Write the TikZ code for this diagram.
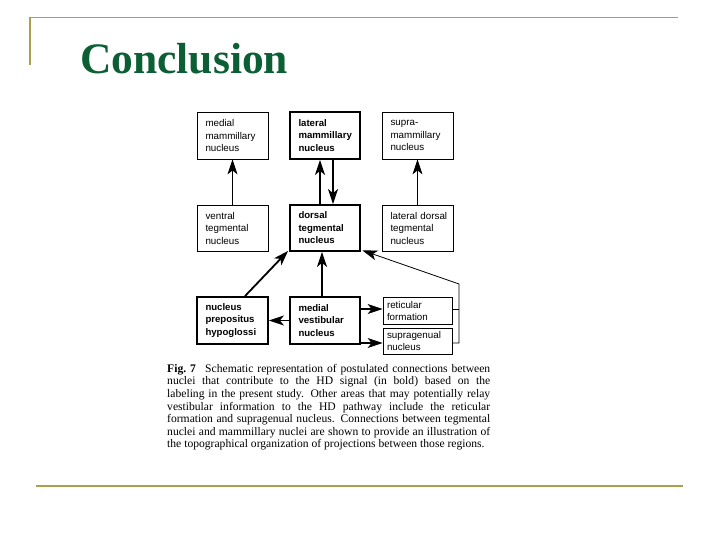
\documentclass[tikz,border=0pt]{standalone}
\usepackage{fontspec}
\setmainfont{Liberation Serif}
\newfontfamily\boxfont{Liberation Sans}
\usetikzlibrary{arrows.meta,calc}
\definecolor{gold}{RGB}{170,160,78}
\definecolor{titlegreen}{RGB}{12,94,52}
\begin{document}
\begin{tikzpicture}[x=1pt,y=-1pt,
  nbox/.style={draw,line width=0.8pt,minimum width=71pt,minimum height=47pt,text width=54pt,inner xsep=8.5pt,inner ysep=0pt,align=left,font=\boxfont\fontsize{9.8}{12.5}\selectfont},
  bbox/.style={nbox,line width=1.8pt,font=\boxfont\bfseries\fontsize{9.6}{12.5}\selectfont},
  sbox/.style={draw,line width=0.8pt,minimum width=69pt,text width=61pt,inner xsep=4pt,inner ysep=1pt,align=left,font=\boxfont\fontsize{9.8}{12}\selectfont},
  thinar/.style={line width=0.8pt,-{Stealth[length=15pt,width=10pt,inset=4pt]}},
  thickar/.style={line width=1.8pt,-{Stealth[length=15pt,width=10pt,inset=4pt]}}]
\useasboundingbox (0,0) rectangle (720,540);
% slide frame
\draw[gold,line width=1.6pt] (30,65.5) -- (30,17.5) -- (678,17.5);
\draw[gold,line width=2.5pt] (36,486) -- (683,486);
\node[anchor=base west,inner sep=0pt,text=titlegreen,font=\bfseries\fontsize{43.5}{48}\selectfont] (title) at (80,73.5) {Conclusion};
% boxes
\node[nbox] (mm) at (232.5,135.5) {medial\\mammillary\\nucleus};
\node[bbox,minimum width=70pt,text width=53pt] (lm) at (325,135.5) {lateral\\mammillary\\nucleus};
\node[nbox] (sm) at (417.5,135.5) {supra-\\mammillary\\nucleus};
\node[nbox,minimum height=46pt] (vt) at (232.5,228) {ventral\\tegmental\\nucleus};
\node[bbox,minimum width=70pt,text width=53pt,minimum height=46pt] (dt) at (325,228) {dorsal\\tegmental\\nucleus};
\node[nbox,minimum height=46pt] (ldt) at (417.5,228) {\mbox{lateral dorsal}\\tegmental\\nucleus};
\node[bbox] (np) at (232.5,320.5) {nucleus\\prepositus\\hypoglossi};
\node[bbox,minimum width=70pt,text width=53pt] (mv) at (325,320.5) {medial\\vestibular\\nucleus};
\node[sbox,minimum height=27pt] (rf) at (417.5,310.5) {reticular\\formation};
\node[sbox,minimum height=26pt] (sg) at (417.5,341) {supragenual\\nucleus};
% connectors
\draw[thinar] (vt.north) -- (mm.south);
\draw[thinar] (ldt.north) -- (sm.south);
\draw[thickar] ([xshift=-5pt]dt.north) -- ([xshift=-5pt]lm.south);
\draw[thickar] ([xshift=8pt]lm.south) -- ([xshift=8pt]dt.north);
\draw[thickar] ([xshift=12.5pt]np.north) -- ([xshift=-1pt,yshift=1pt]dt.south west);
\draw[thickar] ([xshift=-3pt]mv.north) -- ([xshift=-3pt]dt.south);
\draw[thickar] (mv.west) -- (np.east);
\draw[thinar,line width=1.1pt] ([yshift=1.5pt]mv.east |- rf.west) -- ([yshift=1.5pt]rf.west);
\draw[thinar,line width=1.1pt] ([yshift=-2pt]mv.east |- sg.west) -- ([yshift=-2pt]sg.west);
\coordinate (j) at (459,284);
\draw[line width=0.8pt] ([yshift=1.5pt]rf.east) -- ([yshift=1.5pt]rf.east -| j);
\draw[thinar] ([yshift=-2pt]sg.east) -- ([yshift=-2pt]sg.east -| j) -- (j) -- ([xshift=1.5pt,yshift=1.5pt]dt.south east);
% caption
\node[anchor=north west,inner sep=0pt,text width=323pt,align=justify,font=\fontsize{11.6}{12.6}\selectfont] (cap) at (167,364) {\textbf{Fig.~7}\hspace{0.8em}Schematic representation of postulated connections between\linebreak nuclei that contribute to the HD signal (in bold) based on the\linebreak labeling in the present study. Other areas that may potentially relay\linebreak vestibular information to the HD pathway include the reticular\linebreak formation and supragenual nucleus. Connections between tegmental\linebreak nuclei and mammillary nuclei are shown to provide an illustration of\linebreak the topographical organization of projections between those regions.};
\end{tikzpicture}
\end{document}
